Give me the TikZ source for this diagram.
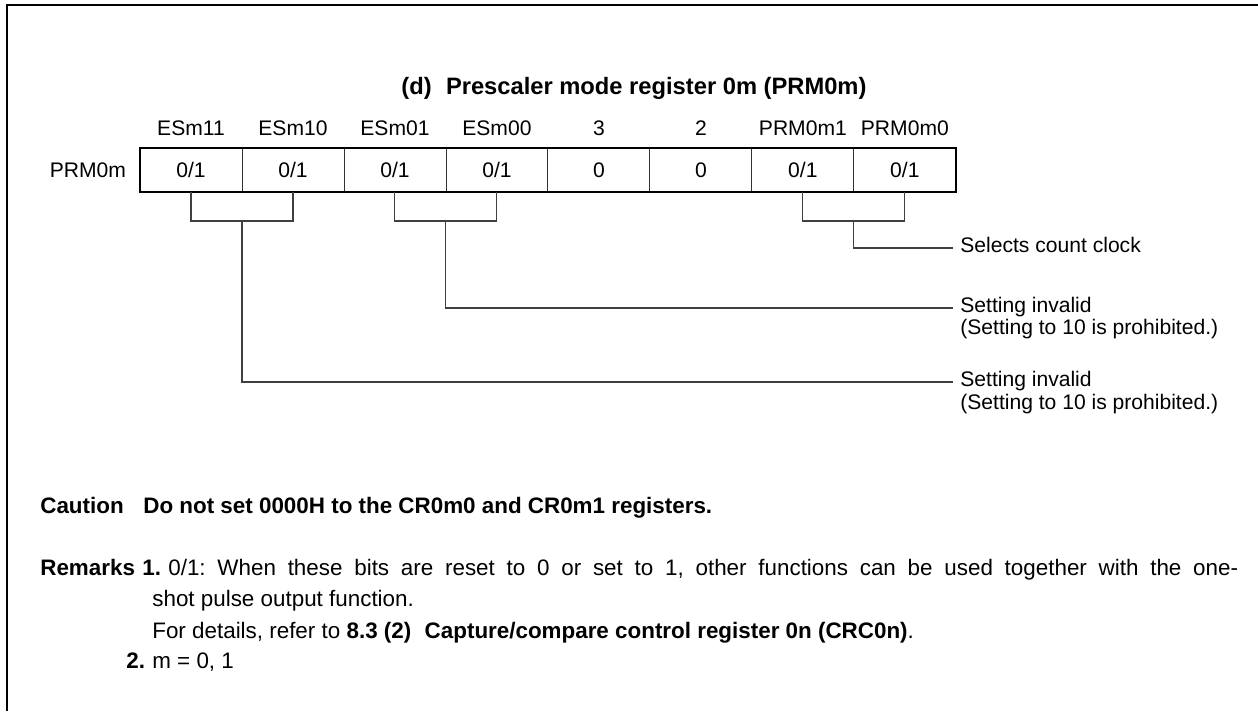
\documentclass[tikz,border=0pt]{standalone}
\usepackage{fontspec}
\setmainfont{Liberation Sans}
\usetikzlibrary{positioning,calc}

\tikzset{
  regcell/.style={draw=black!80,line width=0.5pt,minimum width=2.04cm,minimum height=0.88cm,inner sep=0pt,outer sep=0pt},
  wire/.style={draw=black!75,line width=0.6pt},
  desc/.style={anchor=mid west,inner xsep=4pt,inner ysep=0pt},
  txt/.style={anchor=base west,inner sep=0pt,font=\fontsize{12.75}{15}\selectfont},
  txtb/.style={anchor=base west,inner sep=0pt,font=\fontsize{12.75}{15}\selectfont\bfseries},
}

\begin{document}
\begin{tikzpicture}[x=0.02cm,y=-0.02cm,font=\fontsize{12}{14}\selectfont]
  \useasboundingbox (0,0) rectangle (1258,711);
  % frame, left and top only
  \draw[line width=1.5pt] (7,711) -- (7,5) -- (1258,5);

  % title
  \node[font=\fontsize{13.5}{16}\selectfont\bfseries] (title) at (634,88)
    {(d)\hspace{0.6em}Prescaler mode register 0m (PRM0m)};

  % register cells
  \node[regcell] (b7) at (191,170) {0/1};
  \node[regcell,right=0pt of b7] (b6) {0/1};
  \node[regcell,right=0pt of b6] (b5) {0/1};
  \node[regcell,right=0pt of b5] (b4) {0/1};
  \node[regcell,right=0pt of b4] (b3) {0};
  \node[regcell,right=0pt of b3] (b2) {0};
  \node[regcell,right=0pt of b2] (b1) {0/1};
  \node[regcell,right=0pt of b1] (b0) {0/1};
  \draw[line width=1.4pt] (b7.north west) rectangle (b0.south east);
  \node[left=4.5pt of b7] (reg) {PRM0m};

  % bit names
  \node[above=3.5pt of b7] (n7) {ESm11};
  \node[above=3.5pt of b6] (n6) {ESm10};
  \node[above=3.5pt of b5] (n5) {ESm01};
  \node[above=3.5pt of b4] (n4) {ESm00};
  \node[above=3.5pt of b3] (n3) {3};
  \node[above=3.5pt of b2] (n2) {2};
  \node[above=3.5pt of b1] (n1) {PRM0m1};
  \node[above=3.5pt of b0] (n0) {PRM0m0};

  % brackets under bit pairs
  \draw[wire] (b7.south) -- ++(0,29) -| (b6.south);
  \draw[wire] (b5.south) -- ++(0,29) -| (b4.south);
  \draw[wire] (b1.south) -- ++(0,29) -| (b0.south);

  % descriptions
  \node[desc] (d0) at (953,248) {Selects count clock};
  \node[desc] (d1) at (953,308) {Setting invalid};
  \node[desc] (d1b) at (953,330) {(Setting to 10 is prohibited.)};
  \node[desc] (d2) at (953,382) {Setting invalid};
  \node[desc] (d2b) at (953,405) {(Setting to 10 is prohibited.)};
  \draw[wire] (b1.south east) ++(0,29) |- (d0.mid west);
  \draw[wire] (b5.south east) ++(0,29) |- (d1.mid west);
  \draw[wire] (b7.south east) ++(0,29) |- (d2.mid west);

  % caution and remarks
  \node[txtb] (caut) at (40,513) {Caution};
  \node[txtb] (cautx) at (143,513) {Do not set 0000H to the CR0m0 and CR0m1 registers.};
  \node[txtb] (rem) at (40,575) {Remarks};
  \node[txtb] (rem1) at (142,575) {1.};
  \node[txt] (r1a) at (168,575)
    {\frenchspacing\makebox[21.4cm][s]{0/1: When these bits are reset to 0 or set to 1, other functions can be used together with the one-}};
  \node[txt] (r1b) at (152,606) {shot pulse output function.};
  \node[txt] (r1c) at (152,638)
    {For details, refer to \textbf{8.3 (2)\hspace{0.6em}Capture/compare control register 0n (CRC0n)}.};
  \node[txtb] (rem2) at (126,668) {2.};
  \node[txt] (r2) at (152,668) {m = 0, 1};
\end{tikzpicture}
\end{document}
